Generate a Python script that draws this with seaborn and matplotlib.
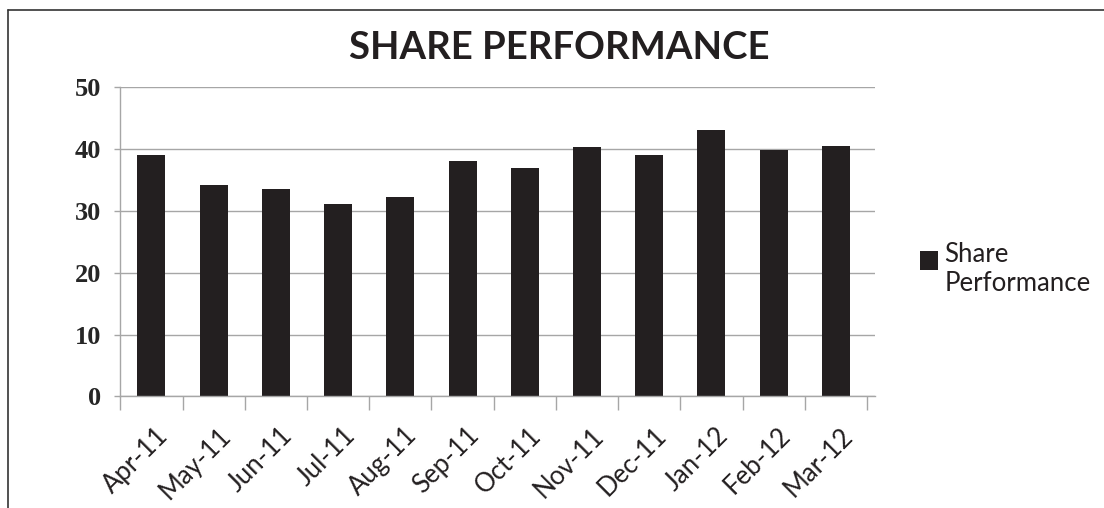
import matplotlib
matplotlib.use("Agg")
import matplotlib.pyplot as plt
from matplotlib.lines import Line2D
from matplotlib.patches import Rectangle
from matplotlib.legend_handler import HandlerPatch
from matplotlib.transforms import ScaledTranslation
import numpy as np
import pandas as pd
import seaborn as sns

months = ["Apr-11", "May-11", "Jun-11", "Jul-11", "Aug-11", "Sep-11",
          "Oct-11", "Nov-11", "Dec-11", "Jan-12", "Feb-12", "Mar-12"]
share_performance = [39.0, 34.2, 33.5, 31.1, 32.2, 38.1,
                     36.9, 40.4, 39.0, 43.1, 39.8, 40.5]
series_name = "Share\nPerformance"
y_ticks = [0, 10, 20, 30, 40, 50]

df = pd.DataFrame({"month": months, "value": share_performance, "series": series_name})

sns.set_style("white")
plt.rcParams["font.family"] = ["Lato", "DejaVu Sans"]

fig = plt.figure(figsize=(11.04, 5.08), dpi=100)
ax = fig.add_axes([0.109, 0.2195, 0.6836, 0.6086])

bar_color = "#231f20"
grid_color = "#a6a6a6"

sns.barplot(data=df, x="month", y="value", hue="series", palette=[bar_color],
            width=0.45, saturation=1, ax=ax, edgecolor="none")

ax.set_xlim(-0.5, 11.63)
ax.set_ylim(0, 50)
ax.set_yticks(y_ticks)
ax.set_yticklabels([str(t) for t in y_ticks], family="Liberation Serif",
                   fontweight="bold", fontsize=19)
ax.yaxis.grid(True, color=grid_color, linewidth=1)
ax.set_axisbelow(True)
ax.tick_params(axis="y", length=4, width=1, color=grid_color, pad=10, left=True)

# category labels on major ticks, boundary tick marks on minor ticks
ax.set_xticks(np.arange(len(months)))
ax.set_xticklabels(months, rotation=45, ha="right", rotation_mode="anchor",
                   fontsize=18.5, color="#231f20")
ax.tick_params(axis="x", which="major", length=0, pad=19)
shift = ScaledTranslation(3 / 72, 0, fig.dpi_scale_trans)
for lbl in ax.get_xticklabels():
    lbl.set_transform(lbl.get_transform() + shift)
ax.set_xticks(np.arange(len(months) + 1) - 0.5, minor=True)
ax.tick_params(axis="x", which="minor", length=10, width=1, color=grid_color, bottom=True)

ax.set_xlabel("")
ax.set_ylabel("")
for side in ["top", "right"]:
    ax.spines[side].set_visible(False)
for side in ["left", "bottom"]:
    ax.spines[side].set_color(grid_color)
    ax.spines[side].set_linewidth(1)


# square legend key sitting at the first text line
def top_square(legend, orig_handle, xdescent, ydescent, width, height, fontsize):
    return Rectangle((-xdescent, -ydescent + height - width - 0.06 * fontsize), width, width)


leg = ax.legend(loc="center left", bbox_to_anchor=(0.833, 0.47),
                bbox_transform=fig.transFigure, frameon=False, fontsize=18.5,
                handlelength=0.72, handleheight=2.2, handletextpad=0.25,
                borderaxespad=0, borderpad=0,
                handler_map={Rectangle: HandlerPatch(patch_func=top_square)})
for t in leg.get_texts():
    t.set_color("#231f20")

fig.text(0.507, 0.905, "SHARE PERFORMANCE", ha="center", va="center",
         fontsize=27.5, fontweight="bold", color="#231f20")

# outer frame (top and left edges)
fig.add_artist(Line2D([0.0072, 1.0], [0.981, 0.981], transform=fig.transFigure,
                      color="#333333", linewidth=1.2))
fig.add_artist(Line2D([0.0072, 0.0072], [0.0, 0.981], transform=fig.transFigure,
                      color="#333333", linewidth=1.2))

fig.savefig("out.png", dpi=100)
